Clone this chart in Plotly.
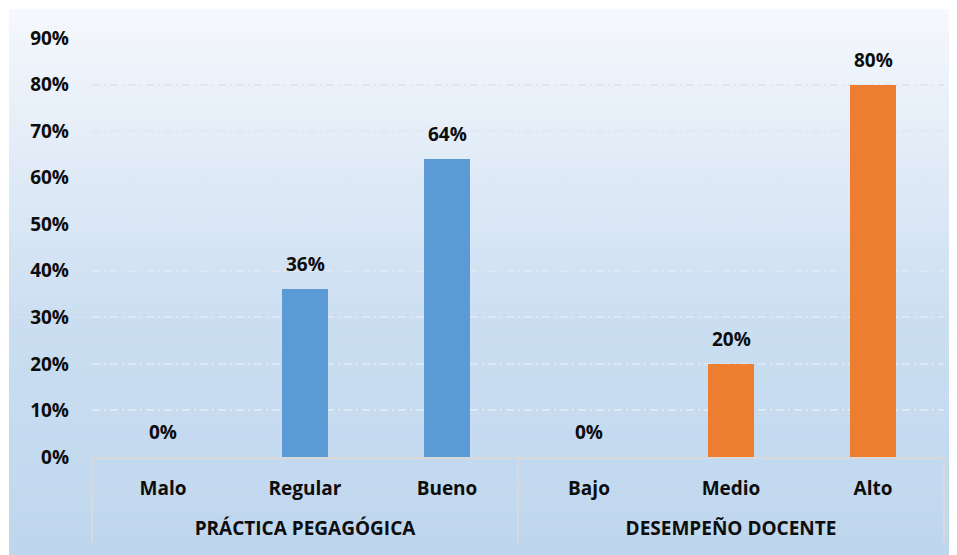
import numpy as np
import plotly.graph_objects as go

# ---- data ----
group_a = "PRÁCTICA PEGAGÓGICA"
group_b = "DESEMPEÑO DOCENTE"
cats_a = ["Malo", "Regular", "Bueno"]
cats_b = ["Bajo", "Medio", "Alto"]
vals_a = [0.00, 0.36, 0.64]
vals_b = [0.00, 0.20, 0.80]
y_ticks = [0, 0.1, 0.2, 0.3, 0.4, 0.5, 0.6, 0.7, 0.8, 0.9]

W, H = 957, 555
OFF = 8  # page body margin
ML, MR, MT, MB = 92 - OFF, W - (944 - OFF), 38 - OFF, H - (457 - OFF)
FONT = "Open Sans, Lato, sans-serif"
FS = 19
TXT = "#0D0D0D"

fig = go.Figure()
fig.add_trace(go.Bar(
    x=[["<br>" + group_a] * 3, cats_a], y=vals_a, marker=dict(color="#5B9BD5", line=dict(width=0)),
    width=0.32, showlegend=False, hoverinfo="y"))
fig.add_trace(go.Bar(
    x=[["<br>" + group_b] * 3, cats_b], y=vals_b, marker=dict(color="#ED7D31", line=dict(width=0)),
    width=0.32, showlegend=False, hoverinfo="y"))

# data labels
all_vals = vals_a + vals_b
for i, v in enumerate(all_vals):
    fig.add_annotation(x=i, y=v, text=f"{v:.0%}", showarrow=False, yanchor="bottom",
                       yshift=10, font=dict(family=FONT, size=FS, color=TXT, weight="bold"))

# gradient background (chart area), built as thin bands in paper coordinates
pw = W - ML - MR
ph = H - MT - MB
base_px = H - MB
x0p = (1 - ML) / pw
x1p = (W + 2 - ML) / pw
stops_px = [1, 192, 312, 555]
stops_r = [245, 220, 203, 190]
stops_g = [248, 232, 222, 214]
stops_b = [252, 246, 241, 238]
nb = 110
edges = np.linspace(1, H + 2, nb + 1)
shapes = []
for k in range(nb):
    mid = (edges[k] + edges[k + 1]) / 2
    r = np.interp(mid, stops_px, stops_r)
    g = np.interp(mid, stops_px, stops_g)
    b = np.interp(mid, stops_px, stops_b)
    shapes.append(dict(
        type="rect", xref="paper", yref="paper", layer="below",
        x0=x0p, x1=x1p,
        y0=(base_px - edges[k + 1] - 0.5) / ph, y1=(base_px - edges[k]) / ph,
        fillcolor=f"rgb({r:.0f},{g:.0f},{b:.0f})", line=dict(width=0)))

fig.update_layout(
    width=W, height=H,
    margin=dict(l=ML, r=MR, t=MT, b=MB, pad=0),
    paper_bgcolor="white", plot_bgcolor="rgba(0,0,0,0)",
    barmode="overlay", bargap=0,
    shapes=shapes,
    font=dict(family=FONT, size=FS, color=TXT, weight="bold"),
    xaxis=dict(
        type="multicategory", showgrid=False, zeroline=False,
        showline=True, linecolor="#D9D9D9", linewidth=2,
        showdividers=True, dividercolor="#D9D9D9", dividerwidth=2,
        ticks="", ticklabelstandoff=13,
        tickfont=dict(family=FONT, size=FS, color=TXT, weight="bold")),
    yaxis=dict(
        range=[0, 0.9], tickvals=y_ticks, tickformat=".0%",
        showgrid=True, gridcolor="#DEE8F4", gridwidth=1.5, griddash="8px,4px,2px,4px",
        zeroline=False, showline=False, ticks="", ticklabelstandoff=22,
        tickfont=dict(family=FONT, size=FS, color=TXT, weight="bold")),
)

fig.write_html("out.html")
